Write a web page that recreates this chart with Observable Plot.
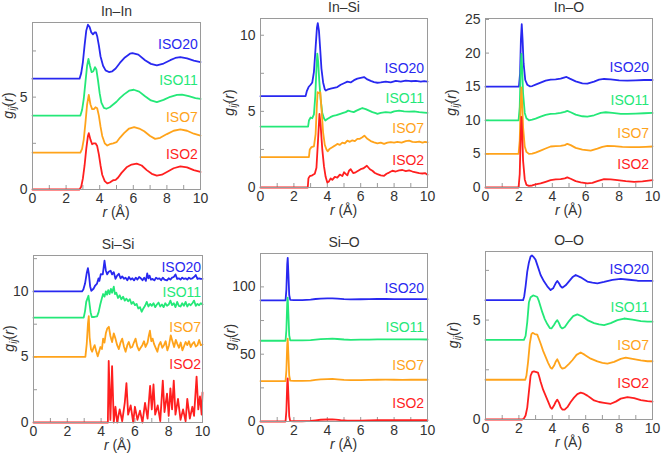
<!DOCTYPE html>
<html>
<head>
<meta charset="utf-8">
<script src="https://cdn.jsdelivr.net/npm/d3@7"></script>
<script src="https://cdn.jsdelivr.net/npm/@observablehq/plot@0.6"></script>
<style>
  body { margin: 0; background: #fff; }
  #chart { position: relative; width: 661px; height: 457px; overflow: hidden; font-family: "Liberation Sans", Arial, Helvetica, sans-serif; }
  #chart svg { position: absolute; overflow: visible; }
</style>
</head>
<body>
<div id="chart"></div>
<script>
// Systems, drawn with vertical offsets so the curves stack
const series = ["ISO2", "ISO7", "ISO11", "ISO20"];
const colors = ["#ff1f1f", "#ffa31a", "#24e878", "#2828f0"];

// Shared r axis ticks (Å)
const rTickLabels = [0, 2, 4, 6, 8, 10];
const rTicks = [0, 1, 2, 3, 4, 5, 6, 7, 8, 9, 10];

// ---- In–In : g(r) as [r, g] pairs, offsets 0 / 2 / 4 / 6
const inInOffsets = [0, 2, 4, 6];
const inIn_ISO2 = [[0,0],[2.8,0],[2.9,0.15],[3.0,0.6],[3.1,1.3],[3.2,2.2],[3.3,2.9],[3.35,3.05],[3.45,2.7],[3.55,2.45],[3.65,2.5],[3.75,2.5],[3.85,2.35],[3.95,1.9],[4.05,1.3],[4.15,0.8],[4.3,0.45],[4.45,0.33],[4.6,0.38],[4.8,0.5],[4.95,0.52],[5.1,0.65],[5.3,0.9],[5.6,1.2],[5.9,1.35],[6.2,1.4],[6.5,1.3],[6.8,1.05],[7.1,0.85],[7.4,0.75],[7.7,0.8],[8.0,0.95],[8.4,1.15],[8.8,1.25],[9.2,1.2],[9.6,1.05],[10,0.95]];
const inIn_ISO7 = [[0,0],[2.85,0],[2.95,0.2],[3.05,0.7],[3.15,1.6],[3.25,2.6],[3.35,3.12],[3.45,2.6],[3.55,2.35],[3.65,2.35],[3.75,2.45],[3.85,2.4],[3.95,2.0],[4.05,1.4],[4.15,0.9],[4.3,0.5],[4.45,0.38],[4.6,0.45],[4.8,0.5],[5.0,0.56],[5.2,0.8],[5.45,1.05],[5.75,1.3],[6.05,1.38],[6.35,1.3],[6.65,1.15],[7.0,0.9],[7.3,0.74],[7.6,0.8],[8.0,1.0],[8.4,1.18],[8.8,1.25],[9.2,1.18],[9.6,1.02],[10,0.92]];
const inIn_ISO11 = [[0,0],[2.85,0],[2.95,0.3],[3.05,0.9],[3.15,1.8],[3.25,2.7],[3.33,3.07],[3.42,2.7],[3.52,2.35],[3.62,2.4],[3.72,2.62],[3.8,2.5],[3.9,1.9],[4.0,1.2],[4.1,0.7],[4.25,0.42],[4.4,0.37],[4.6,0.45],[4.8,0.6],[5.0,0.75],[5.2,0.95],[5.45,1.15],[5.75,1.35],[6.03,1.4],[6.35,1.3],[6.7,1.05],[7.05,0.82],[7.4,0.73],[7.8,0.85],[8.2,1.02],[8.6,1.12],[8.9,1.14],[9.3,1.05],[9.7,0.95],[10,0.9]];
const inIn_ISO20 = [[0,0],[2.8,0],[2.9,0.3],[3.0,0.9],[3.1,1.8],[3.2,2.6],[3.3,2.92],[3.4,2.8],[3.5,2.5],[3.6,2.4],[3.7,2.5],[3.78,2.5],[3.85,2.3],[3.95,1.8],[4.05,1.2],[4.2,0.7],[4.35,0.45],[4.55,0.36],[4.75,0.4],[4.95,0.55],[5.2,0.85],[5.5,1.15],[5.8,1.35],[5.95,1.38],[6.3,1.3],[6.7,1.0],[7.05,0.8],[7.4,0.72],[7.8,0.82],[8.2,1.0],[8.5,1.12],[8.8,1.17],[9.2,1.1],[9.6,0.98],[10,0.9]];

// ---- In–Si, offsets 0 / 2 / 4 / 6
const inSiOffsets = [0, 2, 4, 6];
const inSi_ISO2 = [[0,0],[2.83,0],[2.87,0.6],[2.95,0.75],[3.1,0.8],[3.25,0.9],[3.35,1.3],[3.45,3.2],[3.53,4.83],[3.6,4.1],[3.7,2.5],[3.8,1.4],[3.9,0.7],[4.0,0.33],[4.1,0.4],[4.2,0.6],[4.3,0.5],[4.45,0.7],[4.6,0.65],[4.75,0.85],[4.9,0.75],[5.0,1.0],[5.1,0.9],[5.2,0.8],[5.3,1.1],[5.4,1.2],[5.55,0.95],[5.7,1.0],[5.85,1.1],[6.0,1.2],[6.15,1.25],[6.37,1.43],[6.55,1.2],[6.7,1.1],[6.85,0.95],[7.0,0.88],[7.2,0.8],[7.4,0.77],[7.55,0.9],[7.7,0.98],[7.9,1.1],[8.1,1.05],[8.3,1.12],[8.5,1.15],[8.7,1.08],[8.9,1.12],[9.1,1.05],[9.3,1.0],[9.5,0.95],[9.7,0.92],[9.85,0.95],[10,0.84]];
const inSi_ISO7 = [[0,0],[2.9,0],[2.95,0.5],[3.05,0.65],[3.2,0.7],[3.3,1.5],[3.38,3.5],[3.42,4.26],[3.5,4.2],[3.58,4.26],[3.65,3.2],[3.75,1.6],[3.85,0.8],[3.95,0.5],[4.02,0.37],[4.15,0.55],[4.3,0.65],[4.45,0.75],[4.6,0.86],[4.75,0.8],[4.9,0.95],[5.05,0.9],[5.2,1.08],[5.35,1.0],[5.5,1.1],[5.65,1.05],[5.8,1.19],[5.95,1.2],[6.1,1.3],[6.22,1.41],[6.4,1.2],[6.6,1.05],[6.8,0.97],[7.0,0.9],[7.2,0.95],[7.4,0.86],[7.6,0.95],[7.8,0.98],[8.0,0.95],[8.2,1.0],[8.45,0.95],[8.7,1.05],[8.9,1.08],[9.1,1.0],[9.3,0.98],[9.5,1.02],[9.7,0.95],[9.85,1.0],[10,0.97]];
const inSi_ISO11 = [[0,0],[2.85,0],[2.9,0.4],[3.0,0.6],[3.1,0.55],[3.2,0.8],[3.28,2.0],[3.35,3.8],[3.4,4.79],[3.45,4.3],[3.52,3.0],[3.6,1.8],[3.7,0.9],[3.8,0.55],[3.88,0.4],[4.0,0.5],[4.18,0.62],[4.35,0.7],[4.55,0.75],[4.78,0.84],[4.95,0.9],[5.1,0.95],[5.25,1.05],[5.4,1.0],[5.58,0.95],[5.75,1.05],[5.95,1.15],[6.1,1.22],[6.3,1.15],[6.5,1.05],[6.7,0.95],[6.9,0.88],[7.0,0.84],[7.2,0.9],[7.5,0.95],[7.8,0.92],[8.0,1.0],[8.3,1.05],[8.6,1.0],[8.9,0.98],[9.2,1.0],[9.5,0.95],[9.8,0.92],[10,0.9]];
const inSi_ISO20 = [[0,0],[2.7,0],[2.78,0.35],[2.88,0.6],[3.0,0.75],[3.1,0.9],[3.2,1.6],[3.3,3.2],[3.38,4.5],[3.43,4.8],[3.5,4.3],[3.58,3.0],[3.65,1.8],[3.75,0.9],[3.85,0.45],[3.92,0.37],[4.05,0.45],[4.2,0.5],[4.4,0.55],[4.6,0.6],[4.8,0.75],[5.0,0.85],[5.2,0.95],[5.4,0.9],[5.6,1.05],[5.8,1.15],[6.0,1.2],[6.2,1.25],[6.4,1.1],[6.6,1.0],[6.8,0.92],[7.0,0.88],[7.2,0.9],[7.5,0.95],[7.8,0.9],[8.1,1.0],[8.4,0.95],[8.7,1.02],[9.0,0.98],[9.3,1.0],[9.6,0.95],[9.8,0.98],[10,0.95]];

// ---- In–O, offsets 0 / 5 / 10 / 15
const inOOffsets = [0, 5, 10, 15];
const inO_ISO2 = [[0,0],[1.98,0],[2.05,2.0],[2.1,7],[2.15,10.5],[2.2,8],[2.25,4],[2.35,1.2],[2.45,0.4],[2.6,0.25],[2.8,0.3],[3.0,0.45],[3.3,0.6],[3.6,0.85],[3.9,1.1],[4.2,1.2],[4.5,1.25],[4.75,1.35],[4.9,1.5],[5.1,1.3],[5.4,0.95],[5.7,0.75],[6.1,0.6],[6.4,0.7],[6.7,0.95],[7.1,1.25],[7.5,1.2],[7.9,1.1],[8.4,0.95],[8.9,0.85],[9.4,0.9],[10,1.1]];
const inO_ISO7 = [[0,0],[1.98,0],[2.05,2],[2.1,7],[2.15,9.9],[2.2,7.5],[2.25,4],[2.35,1.1],[2.45,0.3],[2.6,0.0],[2.8,0.05],[3.0,0.2],[3.3,0.5],[3.6,0.8],[3.9,1.1],[4.2,1.15],[4.5,1.2],[4.75,1.3],[4.9,1.5],[5.1,1.3],[5.4,0.9],[5.8,0.65],[6.3,0.5],[6.7,0.8],[7.0,1.05],[7.3,1.2],[7.7,1.15],[8.2,1.05],[8.7,1.0],[9.2,1.0],[9.6,1.05],[10,1.1]];
const inO_ISO11 = [[0,0],[1.98,0],[2.05,2],[2.1,7],[2.15,9.9],[2.2,7.5],[2.25,4],[2.35,1.1],[2.45,0.3],[2.6,0.0],[2.8,0.1],[3.0,0.25],[3.3,0.55],[3.6,0.8],[3.9,0.95],[4.2,1.0],[4.5,1.1],[4.75,1.25],[4.9,1.4],[5.1,1.2],[5.4,0.85],[5.8,0.6],[6.1,0.55],[6.5,0.75],[6.9,1.1],[7.2,1.2],[7.6,1.1],[8.1,0.95],[8.5,0.95],[9.0,1.0],[9.5,1.05],[10,1.1]];
const inO_ISO20 = [[0,0],[2.0,0],[2.07,2],[2.12,7],[2.17,9.3],[2.22,7],[2.28,3.5],[2.38,1.0],[2.5,0.3],[2.65,0.05],[2.8,0.1],[3.0,0.3],[3.3,0.6],[3.6,0.9],[3.9,1.05],[4.2,1.1],[4.5,1.2],[4.75,1.4],[4.85,1.45],[5.05,1.2],[5.4,0.8],[5.8,0.5],[6.1,0.45],[6.5,0.75],[6.8,1.05],[7.1,1.15],[7.5,1.1],[8.0,0.95],[8.5,0.9],[9.0,0.95],[9.5,1.0],[10,1.0]];

// ---- Si–Si, offsets 0 / 5 / 8 / 10
const siSiOffsets = [0, 5, 8, 10];
const siSi_ISO2 = [[0,0],[4.4,0],[4.45,4.7],[4.55,0.2],[4.65,4.3],[4.75,0],[4.85,1.2],[4.95,0],[5.1,1.0],[5.25,0.1],[5.4,1.5],[5.5,3.0],[5.6,0.6],[5.75,1.3],[5.9,0],[6.0,1.2],[6.15,0.2],[6.3,0.9],[6.45,0],[6.6,1.5],[6.75,0.3],[6.9,2.8],[7.0,1.0],[7.1,2.9],[7.2,0.6],[7.35,1.3],[7.5,0.1],[7.65,3.2],[7.75,0.8],[7.9,2.2],[8.0,0.5],[8.1,2.6],[8.2,1.0],[8.3,3.2],[8.4,0.6],[8.55,1.8],[8.7,0.2],[8.85,1.0],[9.0,0.1],[9.1,1.8],[9.25,0.3],[9.4,1.2],[9.5,0.5],[9.65,3.5],[9.75,1.0],[9.85,2.0],[9.95,0.6],[10,2.3]];
const siSi_ISO7 = [[0,0],[3.07,0],[3.15,1.0],[3.22,2.5],[3.27,3.12],[3.32,1.5],[3.4,0.6],[3.47,0.4],[3.55,0.7],[3.62,0.9],[3.7,0.5],[3.8,0.05],[3.88,0.4],[3.96,0.76],[4.05,0.6],[4.12,1.4],[4.2,1.1],[4.28,1.8],[4.36,2.16],[4.46,2.3],[4.55,1.6],[4.65,1.14],[4.75,1.8],[4.85,1.4],[4.95,0.9],[5.05,0.6],[5.15,1.1],[5.25,1.4],[5.35,0.8],[5.45,0.4],[5.55,0.9],[5.64,1.14],[5.74,0.7],[5.84,0.76],[5.94,1.1],[6.04,1.4],[6.14,0.8],[6.24,0.5],[6.34,0.7],[6.44,0.9],[6.54,1.2],[6.63,0.76],[6.75,1.1],[6.82,1.6],[6.89,2.0],[6.97,1.2],[7.05,1.4],[7.13,1.0],[7.23,0.7],[7.33,0.4],[7.42,0.9],[7.52,1.14],[7.62,0.7],[7.72,0.9],[7.82,1.2],[7.92,0.5],[8.02,0.9],[8.12,1.65],[8.22,1.2],[8.32,0.76],[8.42,1.3],[8.51,1.0],[8.61,0.7],[8.71,1.1],[8.81,0.5],[8.9,0.8],[9.0,1.14],[9.1,0.9],[9.2,1.2],[9.3,0.76],[9.4,1.0],[9.5,1.14],[9.6,0.8],[9.7,0.9],[9.8,1.3],[9.9,0.9],[10,0.95]];
const siSi_ISO11 = [[0,0],[2.97,0],[3.05,0.5],[3.12,1.2],[3.2,1.5],[3.25,1.67],[3.3,1.2],[3.38,0.4],[3.45,0.05],[3.6,0.05],[3.76,0.1],[3.85,0.4],[3.95,1.0],[4.05,1.5],[4.12,1.8],[4.2,1.6],[4.28,2.0],[4.35,1.75],[4.42,2.1],[4.5,1.8],[4.58,2.2],[4.65,1.9],[4.75,2.36],[4.82,1.8],[4.9,1.9],[5.0,1.5],[5.1,1.7],[5.2,1.4],[5.3,1.6],[5.4,1.3],[5.5,1.45],[5.6,1.25],[5.7,1.4],[5.8,1.05],[5.9,1.2],[6.0,0.95],[6.1,1.05],[6.2,0.7],[6.3,0.8],[6.4,0.45],[6.5,0.7],[6.6,0.9],[6.7,1.2],[6.8,0.85],[6.9,1.05],[7.0,0.9],[7.1,1.1],[7.2,0.8],[7.3,1.0],[7.4,1.15],[7.5,0.85],[7.6,1.0],[7.7,0.8],[7.8,1.1],[7.9,0.9],[8.0,1.0],[8.1,1.3],[8.2,0.95],[8.3,1.1],[8.4,0.8],[8.5,1.2],[8.6,0.9],[8.7,0.85],[8.8,1.1],[8.9,0.9],[9.0,1.2],[9.1,0.85],[9.2,1.05],[9.3,0.95],[9.4,1.1],[9.5,1.3],[9.6,0.9],[9.7,1.05],[9.8,0.95],[9.9,1.1],[10,1.0]];
const siSi_ISO20 = [[0,0],[2.87,0],[2.95,0.15],[3.05,0.6],[3.15,1.4],[3.22,1.78],[3.28,1.3],[3.35,0.4],[3.42,0.05],[3.55,0.2],[3.65,0.45],[3.76,0.6],[3.85,1.0],[3.9,0.8],[3.98,1.32],[4.1,1.3],[4.2,2.34],[4.28,1.6],[4.36,1.3],[4.45,1.5],[4.56,1.58],[4.65,1.3],[4.75,1.47],[4.85,0.96],[4.95,1.2],[5.05,1.35],[5.15,1.0],[5.25,1.15],[5.35,0.96],[5.45,1.05],[5.55,0.85],[5.65,1.1],[5.75,0.9],[5.85,1.0],[5.95,0.84],[6.05,1.05],[6.15,0.9],[6.25,1.1],[6.35,1.0],[6.45,0.85],[6.55,1.05],[6.65,0.8],[6.73,1.37],[6.8,1.0],[6.87,1.2],[6.95,0.9],[7.05,0.95],[7.15,0.84],[7.25,1.05],[7.35,0.95],[7.45,1.0],[7.55,0.85],[7.65,1.05],[7.75,0.9],[7.9,0.84],[8.0,1.0],[8.1,0.9],[8.2,1.05],[8.3,1.1],[8.4,1.3],[8.5,0.95],[8.6,1.0],[8.7,0.9],[8.8,1.05],[8.9,0.95],[9.0,1.0],[9.1,0.9],[9.2,1.05],[9.3,0.95],[9.4,1.0],[9.5,1.1],[9.6,1.25],[9.7,0.95],[9.8,1.0],[9.9,0.95],[10,0.96]];

// ---- Si–O, offsets 0 / 30 / 60 / 90
const siOOffsets = [0, 30, 60, 90];
const siO_ISO2 = [[0,0],[1.5,0],[1.55,8],[1.6,28],[1.63,32],[1.67,20],[1.72,4],[1.78,0.3],[2.0,0.2],[2.5,0.2],[3.0,0.4],[3.3,0.9],[3.6,1.3],[4.0,1.5],[4.3,1.6],[4.5,1.4],[4.8,1.0],[5.2,0.7],[5.6,0.6],[6.0,0.7],[6.5,0.9],[7.0,1.0],[7.5,1.0],[8.0,0.95],[8.5,0.95],[9.0,1.0],[9.5,1.0],[10,1.0]];
const siO_ISO7 = [[0,0],[1.5,0],[1.55,8],[1.6,27],[1.63,31.5],[1.67,20],[1.72,4],[1.78,0.3],[2.0,0.15],[2.5,0.2],[3.0,0.4],[3.3,0.9],[3.6,1.3],[4.0,1.55],[4.3,1.6],[4.6,1.35],[5.0,0.9],[5.4,0.75],[6.0,0.8],[6.5,0.9],[7.0,1.0],[7.5,1.05],[8.0,1.0],[8.5,0.95],[9.0,1.0],[9.5,1.0],[10,1.0]];
const siO_ISO11 = [[0,0],[1.5,0],[1.55,8],[1.6,28],[1.63,32],[1.67,20],[1.72,4],[1.78,0.3],[2.0,0.2],[2.5,0.2],[3.0,0.4],[3.3,0.8],[3.6,1.2],[4.0,1.4],[4.3,1.5],[4.6,1.3],[5.0,0.9],[5.4,0.7],[6.0,0.75],[6.5,0.85],[7.0,0.95],[7.5,1.0],[8.0,0.95],[8.5,0.95],[9.0,0.95],[9.5,1.0],[10,0.9]];
const siO_ISO20 = [[0,0],[1.5,0],[1.55,8],[1.6,27],[1.63,31.6],[1.67,20],[1.72,4],[1.78,0.3],[2.0,0.15],[2.5,0.2],[3.0,0.5],[3.3,1.0],[3.6,1.3],[4.0,1.45],[4.3,1.5],[4.6,1.3],[5.0,0.9],[5.4,0.7],[6.0,0.8],[6.5,0.95],[7.0,1.1],[7.5,1.0],[8.0,0.95],[8.5,0.9],[9.0,0.95],[9.5,0.9],[10,0.85]];

// ---- O–O, offsets 0 / 2 / 4 / 6
const oOOffsets = [0, 2, 4, 6];
const oO_ISO2 = [[0,0],[2.2,0],[2.3,0.05],[2.4,0.2],[2.5,0.6],[2.6,1.4],[2.7,2.2],[2.8,2.4],[2.9,2.42],[3.0,2.4],[3.14,2.36],[3.22,2.15],[3.3,1.9],[3.45,1.5],[3.6,1.2],[3.75,0.9],[3.9,0.6],[3.98,0.54],[4.1,0.7],[4.2,0.88],[4.3,1.0],[4.4,0.85],[4.5,0.62],[4.6,0.5],[4.74,0.5],[4.9,0.62],[5.1,0.88],[5.3,1.1],[5.5,1.28],[5.7,1.35],[5.9,1.3],[6.1,1.2],[6.3,1.08],[6.5,0.96],[6.8,0.88],[7.1,0.84],[7.5,0.79],[7.8,0.9],[8.1,1.05],[8.5,1.13],[8.9,1.08],[9.3,0.98],[9.7,0.92],[10,0.9]];
const oO_ISO7 = [[0,0],[2.38,0],[2.45,0.2],[2.55,0.9],[2.65,1.8],[2.75,2.3],[2.82,2.36],[2.95,2.3],[3.1,2.27],[3.2,2.05],[3.3,1.82],[3.45,1.45],[3.6,1.15],[3.75,0.85],[3.9,0.6],[3.98,0.56],[4.1,0.7],[4.2,0.9],[4.3,1.03],[4.4,0.85],[4.5,0.65],[4.6,0.56],[4.75,0.6],[5.0,0.8],[5.2,0.98],[5.45,1.25],[5.7,1.37],[5.95,1.25],[6.3,1.06],[6.7,0.92],[7.0,0.85],[7.3,0.81],[7.7,0.9],[8.1,1.05],[8.4,1.11],[8.8,1.05],[9.3,0.97],[9.7,0.93],[10,0.93]];
const oO_ISO11 = [[0,0],[2.3,0],[2.4,0.2],[2.5,0.9],[2.6,1.9],[2.7,2.15],[2.85,2.24],[3.0,2.2],[3.1,2.16],[3.2,1.95],[3.4,1.4],[3.55,1.05],[3.7,0.8],[3.85,0.6],[3.95,0.58],[4.1,0.75],[4.2,0.9],[4.3,1.0],[4.4,0.85],[4.5,0.65],[4.6,0.58],[4.75,0.65],[5.0,0.95],[5.25,1.2],[5.5,1.29],[5.8,1.18],[6.1,1.0],[6.5,0.85],[6.8,0.78],[7.1,0.75],[7.5,0.85],[7.9,1.0],[8.3,1.08],[8.8,1.02],[9.3,0.95],[9.7,0.92],[10,0.92]];
const oO_ISO20 = [[0,0],[2.25,0],[2.32,0.2],[2.4,0.7],[2.5,1.44],[2.6,1.9],[2.7,2.2],[2.78,2.25],[2.9,2.15],[3.0,2.03],[3.15,1.65],[3.3,1.27],[3.5,0.95],[3.7,0.7],[3.9,0.51],[4.05,0.6],[4.2,0.85],[4.3,0.97],[4.4,0.85],[4.5,0.7],[4.6,0.63],[4.8,0.75],[5.0,0.95],[5.2,1.15],[5.4,1.27],[5.7,1.15],[6.1,0.94],[6.4,0.88],[6.7,0.85],[7.1,0.92],[7.6,1.02],[8.1,1.07],[8.6,1.03],[9.1,0.98],[9.6,0.97],[10,0.97]];

// Panel layout: frame box in page pixels [left, top, right, bottom],
// y extent, labelled / unlabelled y ticks, label anchor (x, y per series)
const panels = [
  { title: "In–In", frame: [32, 22, 200, 189], yMax: 9.04, yLabels: [0, 5], yTicks: [0, 2.5, 5, 7.5],
    curves: [inIn_ISO2, inIn_ISO7, inIn_ISO11, inIn_ISO20], offsets: inInOffsets,
    tagX: 9.84, tagY: [1.9, 3.92, 5.9, 7.83], yTitleGap: 23 },
  { title: "In–Si", frame: [260, 18, 427, 187], yMax: 11.1, yLabels: [0, 5, 10], yTicks: [0, 2.5, 5, 7.5, 10],
    curves: [inSi_ISO2, inSi_ISO7, inSi_ISO11, inSi_ISO20], offsets: inSiOffsets,
    tagX: 9.8, tagY: [1.76, 3.85, 5.82, 7.8], yTitleGap: 30 },
  { title: "In–O", frame: [485, 18, 652, 187], yMax: 25.15, yLabels: [0, 5, 10, 15, 20, 25], yTicks: [0, 5, 10, 15, 20, 25],
    curves: [inO_ISO2, inO_ISO7, inO_ISO11, inO_ISO20], offsets: inOOffsets,
    tagX: 9.8, tagY: [3.4, 8.0, 13.0, 17.9], yTitleGap: 33 },
  { title: "Si–Si", frame: [33, 255, 202, 422], yMax: 12.74, yLabels: [0, 5, 10], yTicks: [0, 2.5, 5, 7.5, 10, 12.5],
    curves: [siSi_ISO2, siSi_ISO7, siSi_ISO11, siSi_ISO20], offsets: siSiOffsets,
    tagX: 9.92, tagY: [4.42, 7.28, 9.95, 11.85], yTitleGap: 23 },
  { title: "Si–O", frame: [260, 253, 427, 421], yMax: 124.8, yLabels: [0, 50, 100], yTicks: [0, 25, 50, 75, 100],
    curves: [siO_ISO2, siO_ISO7, siO_ISO11, siO_ISO20], offsets: siOOffsets,
    tagX: 9.8, tagY: [13.2, 41.7, 69.5, 98.8], yTitleGap: 29 },
  { title: "O–O", frame: [485, 251, 652, 419], yMax: 8.45, yLabels: [0, 5], yTicks: [0, 2.5, 5, 7.5],
    curves: [oO_ISO2, oO_ISO7, oO_ISO11, oO_ISO20], offsets: oOOffsets,
    tagX: 9.8, tagY: [1.8, 3.7, 5.62, 7.53], yTitleGap: 31 }
];

const axisGrey = "#9a9a9a";
const textGrey = "#333";
const chart = document.getElementById("chart");

for (const p of panels) {
  const [x0, y0, x1, y1] = p.frame;
  const w = x1 - x0, h = y1 - y0;
  const mL = 44, mR = 8, mT = 24, mB = 38;

  // Each curve as rows, lifted by its series offset; ISO20 drawn first so ISO2 sits on top
  const lines = series.map((s, i) => ({
    s, color: colors[i],
    rows: p.curves[i].map(([r, g]) => ({ r, y: g + p.offsets[i] }))
  })).reverse();

  const tags = series.map((s, i) => ({ s, x: p.tagX, y: p.tagY[i], color: colors[i] }));

  const svg = Plot.plot({
    width: w + mL + mR,
    height: h + mT + mB,
    marginLeft: mL, marginRight: mR, marginTop: mT, marginBottom: mB,
    x: { domain: [0, 10] },
    y: { domain: [0, p.yMax] },
    style: { background: "transparent", fontFamily: "'Liberation Sans', Arial, Helvetica, sans-serif", fontSize: "14px", color: textGrey },
    marks: [
      Plot.tickX(rTicks, { x: d => d, insetTop: h - 4, stroke: axisGrey, strokeWidth: 1 }),
      Plot.tickY(p.yTicks, { y: d => d, insetRight: w - 4, stroke: axisGrey, strokeWidth: 1 }),
      Plot.axisX({ ticks: rTickLabels, tickSize: 0, tickPadding: 4, label: null, fill: textGrey }),
      Plot.axisY({ ticks: p.yLabels, tickSize: 0, tickPadding: 5, label: null, fill: textGrey }),
      ...lines.map(l => Plot.line(l.rows, { x: "r", y: "y", stroke: l.color, strokeWidth: 1.8, strokeLinejoin: "round" })),
      Plot.frame({ stroke: axisGrey, strokeWidth: 1 }),
      Plot.text(tags, { x: "x", y: "y", text: "s", fill: "color", textAnchor: "end", fontSize: 14 }),
      Plot.text([p.title], { frameAnchor: "top", dy: -7, lineAnchor: "bottom", fontSize: 14, fill: textGrey })
    ]
  });

  svg.style.left = (x0 - mL) + "px";
  svg.style.top = (y0 - mT) + "px";

  const sel = d3.select(svg);

  // x title: r (Å)
  const xt = sel.append("text")
    .attr("x", mL + w / 2).attr("y", mT + h + 28)
    .attr("text-anchor", "middle").attr("fill", textGrey).attr("font-size", 14);
  xt.append("tspan").attr("font-style", "italic").text("r");
  xt.append("tspan").text(" (Å)");

  // y title: g_ij(r)
  const yt = sel.append("text")
    .attr("transform", `translate(${mL - p.yTitleGap},${mT + h / 2}) rotate(-90)`)
    .attr("text-anchor", "middle").attr("dominant-baseline", "middle")
    .attr("fill", textGrey).attr("font-size", 14);
  yt.append("tspan").attr("font-style", "italic").text("g");
  yt.append("tspan").attr("font-style", "italic").attr("font-size", 10).attr("dy", 4).text("ij");
  yt.append("tspan").attr("dy", -4).text("(");
  yt.append("tspan").attr("font-style", "italic").text("r");
  yt.append("tspan").text(")");

  chart.appendChild(svg);
}
</script>
</body>
</html>
